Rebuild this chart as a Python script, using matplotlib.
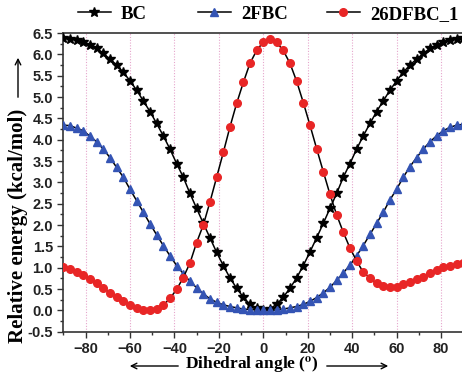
import numpy as np
import matplotlib
matplotlib.use("Agg")
import matplotlib.pyplot as plt
from matplotlib.lines import Line2D
from matplotlib.ticker import MultipleLocator, FormatStrFormatter

# dihedral angle scan, 3 degree steps
angle = list(range(-90, 91, 3))

bc = [6.38, 6.36, 6.34, 6.28, 6.22, 6.14, 6.02, 5.89, 5.75, 5.58,
      5.38, 5.16, 4.91, 4.66, 4.38, 4.09, 3.78, 3.44, 3.12, 2.74,
      2.39, 2.04, 1.70, 1.36, 1.05, 0.76, 0.52, 0.31, 0.14, 0.05,
      0.00,
      0.04, 0.14, 0.31, 0.52, 0.76, 1.05, 1.37, 1.70, 2.04, 2.39,
      2.74, 3.12, 3.44, 3.78, 4.09, 4.38, 4.66, 4.91, 5.16, 5.38,
      5.58, 5.75, 5.89, 6.02, 6.14, 6.22, 6.28, 6.33, 6.36, 6.38]

fbc2 = [4.34, 4.33, 4.27, 4.21, 4.08, 3.95, 3.78, 3.58, 3.35, 3.12,
        2.84, 2.57, 2.30, 2.03, 1.77, 1.52, 1.28, 1.05, 0.86, 0.68,
        0.53, 0.39, 0.27, 0.19, 0.13, 0.09, 0.06, 0.03, 0.02, 0.01,
        0.00,
        0.00, 0.01, 0.03, 0.06, 0.09, 0.14, 0.21, 0.30, 0.41, 0.54,
        0.70, 0.88, 1.06, 1.28, 1.52, 1.78, 2.04, 2.30, 2.59, 2.84,
        3.12, 3.37, 3.58, 3.78, 3.95, 4.09, 4.21, 4.29, 4.34, 4.36]

dfbc26 = [1.01, 0.96, 0.91, 0.84, 0.74, 0.63, 0.52, 0.41, 0.32, 0.22,
          0.13, 0.06, 0.01, 0.00, 0.03, 0.12, 0.28, 0.49, 0.77, 1.11,
          1.59, 2.00, 2.54, 3.12, 3.70, 4.30, 4.85, 5.34, 5.79, 6.09,
          6.29,
          6.36, 6.28, 6.09, 5.79, 5.37, 4.87, 4.34, 3.79, 3.25, 2.72,
          2.24, 1.83, 1.46, 1.16, 0.89, 0.76, 0.63, 0.56, 0.54, 0.55,
          0.61, 0.66, 0.73, 0.79, 0.87, 0.95, 1.01, 1.05, 1.09, 1.11]

W, H = 462, 374
serif = "Liberation Serif"
sans = "Liberation Sans"
plt.rcParams["mathtext.fontset"] = "stix"

fig = plt.figure(figsize=(W / 100, H / 100), dpi=100)
ax = fig.add_axes([63.3 / W, 42.3 / H, 400 / W, 298.7 / H])

for x in range(-80, 81, 20):
    ax.axvline(x, color="#e6a6cc", lw=0.8, ls=(0, (1, 1.5)), zorder=0)

ax.plot(angle, bc, color="black", lw=1.1, marker="*", ms=7.5,
        mfc="black", mec="black", zorder=3)
ax.plot(angle, fbc2, color="black", lw=1.1, marker="^", ms=6,
        mfc="#3454b4", mec="#3454b4", zorder=3)
ax.plot(angle, dfbc26, color="black", lw=1.1, marker="o", ms=5.5,
        mfc="#e82626", mec="#e82626", zorder=4)

ax.set_xlim(-90, 90)
ax.set_ylim(-0.5, 6.5)
ax.xaxis.set_major_locator(MultipleLocator(20))
ax.xaxis.set_minor_locator(MultipleLocator(10))
ax.yaxis.set_major_locator(MultipleLocator(0.5))
ax.yaxis.set_minor_locator(MultipleLocator(0.25))
ax.set_xticks(range(-80, 81, 20))
ax.yaxis.set_major_formatter(FormatStrFormatter("%.1f"))
ax.tick_params(which="major", direction="out", length=4.5, width=1,
               colors="#333333", labelsize=10.5, pad=3)
ax.tick_params(which="minor", direction="out", length=2.5, width=1,
               colors="#333333")
for lab in ax.get_xticklabels() + ax.get_yticklabels():
    lab.set_fontfamily(sans)
    lab.set_fontweight("bold")
    lab.set_color("#222222")
for s in ax.spines.values():
    s.set_linewidth(1.2)
    s.set_color("#333333")

# axis labels with long arrows
fig.text(18 / W, 1 - 226 / H, "Relative energy (kcal/mol)", rotation=90,
         ha="center", va="center", family=serif, weight="bold", fontsize=15)
ax.annotate("", xy=(18, H - 55), xytext=(18, H - 100),
            xycoords="figure pixels",
            arrowprops=dict(arrowstyle="->", lw=1, color="black"))
fig.text(252 / W, 1 - 369 / H, r"Dihedral angle ($^\mathbf{o}$)",
         ha="center", va="baseline", family=serif, weight="bold",
         fontsize=12.5)
ax.annotate("", xy=(127, H - 366), xytext=(181, H - 366),
            xycoords="figure pixels",
            arrowprops=dict(arrowstyle="->", lw=1, color="black"))
ax.annotate("", xy=(391, H - 366), xytext=(324, H - 366),
            xycoords="figure pixels",
            arrowprops=dict(arrowstyle="->", lw=1, color="black"))

# legend above the plot
entries = [
    ("BC", "*", "black", 7.5, 78),
    ("2FBC", "^", "#3454b4", 6, 198),
    ("26DFBC_1", "o", "#e82626", 5.5, 327),
]
for name, mk, col, size, xpos in entries:
    h = Line2D([], [], color="black", lw=1.1, marker=mk, ms=size,
               mfc=col, mec=col)
    fig.legend([h], [name], loc="center left",
               bbox_to_anchor=(xpos / W, 1 - 14 / H), frameon=False,
               borderpad=0, borderaxespad=0, handlelength=1.75,
               handletextpad=0.55,
               prop=dict(family=serif, weight="bold", size=13.5))

fig.savefig("out.png", dpi=100)
